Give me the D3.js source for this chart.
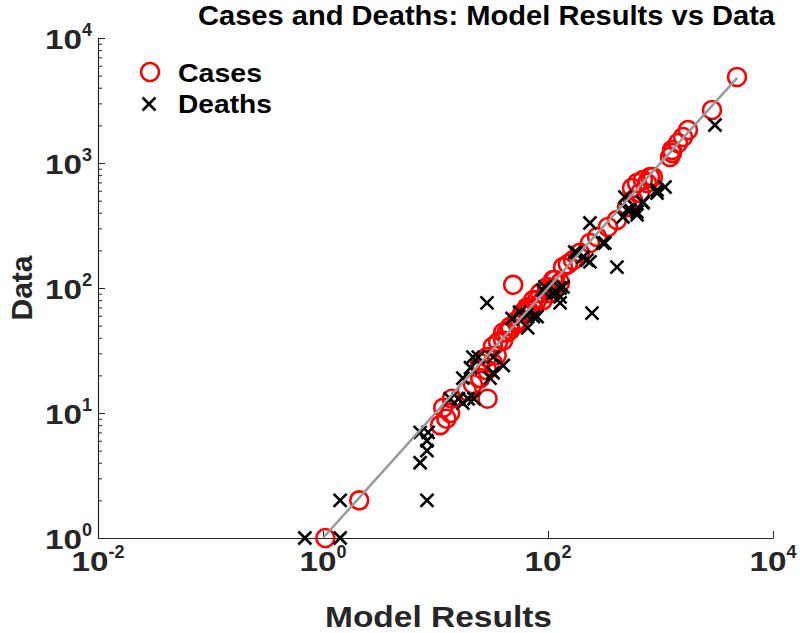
<!DOCTYPE html>
<html><head><meta charset="utf-8">
<script src="https://cdn.jsdelivr.net/npm/d3@7"></script>
<style>
body{margin:0;background:#fff}
svg{display:block}
text{font-family:"Liberation Sans",Arial,Helvetica,sans-serif;font-weight:bold}
</style>
</head><body>
<script>
// ---- data ----
const casesModel = [1.05,2.1,11,12.5,13.5,11.7,14,29,19,21.5,25,28.7,25,32.4,28.7,35,32.4,36,40,40,43,46,46,49,53,53,56,59,65,65,65,74,74,80,85,90,98,98,104,111,111,115,128,136,150,167,192,236,273,341,410,504,570,558,618,658,698,759,807,857,1214,1265,1265,1431,1585,1755,2869,4786];
const casesData  = [1,2,8,9,10,11,13,13,15,17,19,22,25,25,28,29,34,37,38,44,44,46,49,106,52,55,55,63,63,67,70,69,80,80,91,80,96,102,91,100,116,116,110,147,155,167,191,229,256,308,350,445,506,631,692,575,731,692,773,773,1117,1202,1271,1445,1614,1837,2655,4875];
const deathsModel = [0.69,1.42,1.42,8.4,7.3,8.4,8.4,7.3,8.6,13.5,16,17.5,19.5,22,17.5,20.5,24,21.5,30.5,32.5,32.5,40,28.7,48,56,65,66,74,80,90,94,111,120,128,128,136,128,173,181,205,222,236,236,246,308,320,410,464,483,504,535,618,618,698,698,931,931,1096,3048];
const deathsData  = [1,1,2,2,4,5,6,7,7,13,13,12,13,13,19,23,28,28,19,21,28,24,76,57,64,61,48,59,59,96,102,91,91,85,100,102,76,194,191,177,167,162,331,63,229,229,147,370,535,421,421,385,406,480,488,575,608,643,2014];
const lineRange = [1, 4800];
const xTickExps = [-2, 0, 2, 4];
const yTickExps = [0, 1, 2, 3, 4];
const legendLabels = ["Cases", "Deaths"];
const titleText = "Cases and Deaths: Model Results vs Data";
const xLabel = "Model Results";
const yLabel = "Data";

// ---- layout ----
const W = 800, H = 633;
const L = 98, R = 773, T = 38, B = 538;
const axisCol = "#262626";

const svg = d3.select("body").append("svg").attr("width", W).attr("height", H);

const x = d3.scaleLog().domain([1e-2, 1e4]).range([L, R]);
const y = d3.scaleLog().domain([1, 1e4]).range([B, T]);

// axes
const xAxis = d3.axisBottom(x).tickValues(xTickExps.map(e => Math.pow(10, e)))
  .tickSizeInner(-7).tickSizeOuter(0).tickFormat("");
svg.append("g").attr("transform", `translate(0,${B})`).call(xAxis);

const yMinor = [];
for (let e = 0; e < 4; e++) for (let k = 2; k <= 9; k++) yMinor.push(k * Math.pow(10, e));
const yAxis = d3.axisLeft(y).tickValues(yTickExps.map(e => Math.pow(10, e)))
  .tickSizeInner(-7).tickSizeOuter(0).tickFormat("");
svg.append("g").attr("transform", `translate(${L},0)`).call(yAxis);
const gyMinor = svg.append("g").attr("transform", `translate(${L},0)`)
  .call(d3.axisLeft(y).tickValues(yMinor).tickSizeInner(-4).tickSizeOuter(0).tickFormat(""));
gyMinor.select(".domain").remove();
svg.selectAll(".domain").attr("stroke", axisCol).attr("stroke-width", 1.2);
svg.selectAll(".tick line").attr("stroke", axisCol).attr("stroke-width", 1);

// tick labels  10^e
function powLabel(g, e) {
  const t = g.append("text").attr("fill", axisCol);
  t.append("tspan").attr("font-size", 28).attr("textLength", 37).attr("lengthAdjust", "spacingAndGlyphs").text("10");
  t.append("tspan").attr("font-size", 18).attr("dy", -13).text(String(e));
  return t;
}
xTickExps.forEach(e => {
  const t = powLabel(svg.append("g"), e);
  const w = t.node().getComputedTextLength();
  t.attr("x", x(Math.pow(10, e)) - w / 2).attr("y", 571);
});
yTickExps.forEach(e => {
  const t = powLabel(svg.append("g"), e);
  const w = t.node().getComputedTextLength();
  t.attr("x", 92 - w).attr("y", y(Math.pow(10, e)) + 11);
});

// title & axis labels
svg.append("text").attr("x", 198).attr("y", 25).attr("font-size", 28)
  .attr("fill", "#000").attr("textLength", 577).attr("lengthAdjust", "spacingAndGlyphs")
  .text(titleText);
svg.append("text").attr("x", 325).attr("y", 627)
  .attr("font-size", 29).attr("fill", axisCol)
  .attr("textLength", 227).attr("lengthAdjust", "spacingAndGlyphs").text(xLabel);
svg.append("text").attr("transform", `translate(32,${(T + B) / 2}) rotate(-90)`)
  .attr("text-anchor", "middle").attr("font-size", 30).attr("fill", axisCol).text(yLabel);

// marks
const cases = casesModel.map((m, i) => ({m, d: casesData[i]}));
const deaths = deathsModel.map((m, i) => ({m, d: deathsData[i]}));
const xPath = "M-6.5,-6.5L6.5,6.5M-6.5,6.5L6.5,-6.5";

svg.append("g").selectAll("circle").data(cases).join("circle")
  .attr("cx", d => x(d.m)).attr("cy", d => y(d.d)).attr("r", 9)
  .attr("fill", "none").attr("stroke", "#ff0000").attr("stroke-width", 2.6);

svg.append("g").selectAll("path").data(deaths).join("path")
  .attr("transform", d => `translate(${x(d.m)},${y(d.d)})`).attr("d", xPath)
  .attr("fill", "none").attr("stroke", "#000").attr("stroke-width", 2.6);

svg.append("line")
  .attr("x1", x(lineRange[0])).attr("y1", y(lineRange[0]))
  .attr("x2", x(lineRange[1])).attr("y2", y(lineRange[1]))
  .attr("stroke", "#999999").attr("stroke-width", 2.5);

// legend
const lg = svg.append("g");
lg.append("circle").attr("cx", 150).attr("cy", 72).attr("r", 9)
  .attr("fill", "none").attr("stroke", "#ff0000").attr("stroke-width", 2.6);
lg.append("path").attr("transform", "translate(149,104)").attr("d", xPath)
  .attr("fill", "none").attr("stroke", "#000").attr("stroke-width", 2.6);
const legendWidths = [84, 94];
lg.selectAll("text").data(legendLabels).join("text")
  .attr("x", 178).attr("y", (d, i) => 82 + i * 31).attr("font-size", 25)
  .attr("textLength", (d, i) => legendWidths[i]).attr("lengthAdjust", "spacingAndGlyphs")
  .attr("fill", "#000").text(d => d);
</script>
</body></html>
